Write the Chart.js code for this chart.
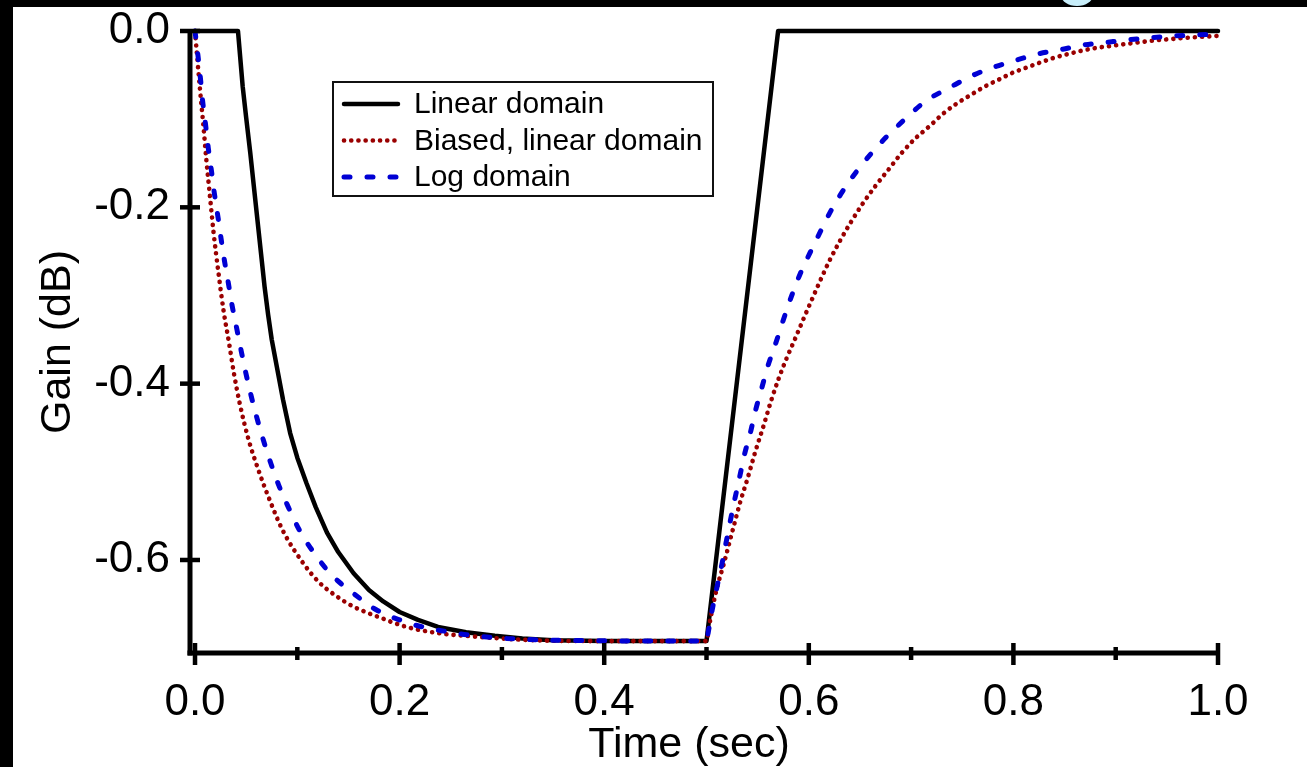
<!DOCTYPE html>
<html><head><meta charset="utf-8">
<script src="https://cdn.jsdelivr.net/npm/chart.js@4"></script>
<style>
html,body{margin:0;padding:0;background:#fff;}
#wrap{position:relative;width:1307px;height:767px;overflow:hidden;background:#fff;}
#c{position:absolute;left:0;top:0;display:block;}
.strip{position:absolute;background:#000;}
</style></head><body>
<div id="wrap">
<canvas id="c" width="1307" height="767"></canvas>
<div class="strip" style="left:0;top:0;width:13px;height:767px"></div>
<div class="strip" style="left:0;top:0;width:1307px;height:7px"></div>
<div style="position:absolute;left:1061px;top:-16px;width:32px;height:22px;border-radius:50%;background:#c8eefa;"></div>
</div>
<script>
// ---- data ----
const linearTime = [0, 0.042, 0.0466, 0.050, 0.054, 0.0575, 0.061, 0.0645, 0.068, 0.0715, 0.075, 0.080, 0.086, 0.093, 0.100, 0.109, 0.118, 0.129, 0.140, 0.155, 0.170, 0.184, 0.200, 0.218, 0.2375, 0.265, 0.293, 0.320, 0.350, 0.400, 0.500, 0.570, 1.000];
const linearGain = [0, 0, -0.063, -0.098, -0.138, -0.176, -0.214, -0.252, -0.290, -0.322, -0.350, -0.381, -0.418, -0.456, -0.484, -0.513, -0.540, -0.569, -0.591, -0.615, -0.634, -0.647, -0.659, -0.668, -0.676, -0.682, -0.686, -0.689, -0.691, -0.692, -0.692, 0, 0];

const biasedTime = [0, 0.002, 0.005, 0.008, 0.011, 0.015, 0.018, 0.023, 0.028, 0.033, 0.038, 0.044, 0.052, 0.062, 0.073, 0.086, 0.106, 0.121, 0.137, 0.155, 0.178, 0.207, 0.238, 0.275, 0.331, 0.400, 0.500,
  0.503, 0.507, 0.512, 0.517, 0.522, 0.527, 0.533, 0.540, 0.548, 0.556, 0.563, 0.570, 0.578, 0.587, 0.595, 0.604, 0.612, 0.620, 0.630, 0.640, 0.652, 0.665, 0.678, 0.691, 0.704, 0.719, 0.731, 0.745, 0.759, 0.772, 0.786, 0.800, 0.814, 0.828, 0.841, 0.854, 0.868, 0.882, 0.895, 0.908, 0.922, 0.936, 0.950, 0.963, 0.976, 1.000];
const biasedGain = [0, -0.028, -0.068, -0.105, -0.145, -0.192, -0.227, -0.275, -0.318, -0.352, -0.388, -0.424, -0.462, -0.498, -0.532, -0.567, -0.604, -0.625, -0.640, -0.653, -0.664, -0.676, -0.683, -0.687, -0.691, -0.692, -0.692,
  -0.672, -0.648, -0.624, -0.604, -0.582, -0.560, -0.534, -0.508, -0.476, -0.447, -0.420, -0.396, -0.372, -0.348, -0.326, -0.302, -0.281, -0.261, -0.239, -0.219, -0.197, -0.176, -0.157, -0.138, -0.122, -0.107, -0.094, -0.082, -0.072, -0.063, -0.055, -0.047, -0.041, -0.035, -0.030, -0.026, -0.022, -0.019, -0.017, -0.015, -0.013, -0.011, -0.0095, -0.0083, -0.0072, -0.0055];

const logTime = [0, 0.003, 0.0055, 0.0075, 0.0104, 0.013, 0.016, 0.0189, 0.0222, 0.0254, 0.0287, 0.0326, 0.0362, 0.0407, 0.045, 0.0495, 0.0547, 0.0603, 0.0668, 0.074, 0.0818, 0.0912, 0.102, 0.1157, 0.1336, 0.155, 0.178, 0.200, 0.2225, 0.245, 0.267, 0.305, 0.350, 0.500,
  0.502, 0.505, 0.510, 0.515, 0.520, 0.526, 0.532, 0.537, 0.543, 0.548, 0.554, 0.560, 0.568, 0.575, 0.583, 0.591, 0.601, 0.612, 0.623, 0.637, 0.653, 0.671, 0.693, 0.715, 0.738, 0.759, 0.781, 0.803, 0.824, 0.847, 0.868, 0.890, 0.912, 0.934, 0.957, 0.978, 1.000];
const logGain = [0, -0.029, -0.056, -0.080, -0.107, -0.133, -0.158, -0.184, -0.209, -0.235, -0.260, -0.286, -0.311, -0.337, -0.362, -0.387, -0.413, -0.438, -0.464, -0.490, -0.515, -0.540, -0.566, -0.591, -0.617, -0.638, -0.657, -0.668, -0.676, -0.681, -0.685, -0.689, -0.691, -0.692,
  -0.680, -0.660, -0.632, -0.605, -0.575, -0.540, -0.508, -0.481, -0.455, -0.430, -0.405, -0.380, -0.353, -0.328, -0.301, -0.277, -0.252, -0.226, -0.201, -0.175, -0.150, -0.126, -0.101, -0.079, -0.064, -0.051, -0.041, -0.033, -0.026, -0.021, -0.016, -0.013, -0.010, -0.0076, -0.0057, -0.0045, -0.0037];

const seriesLabels = ['Linear domain', 'Biased, linear domain', 'Log domain'];
const xMajorTicks = [0, 0.2, 0.4, 0.6, 0.8, 1.0];
const xMinorTicks = [0.1, 0.3, 0.5, 0.7, 0.9];
const yMajorTicks = [0, -0.2, -0.4, -0.6];
const xTitle = 'Time (sec)';
const yTitle = 'Gain (dB)';

// ---- chart ----
const FONT = "'Liberation Sans', Arial, Helvetica, sans-serif";
Chart.defaults.font.family = FONT;
Chart.defaults.color = '#000';

const toPts = (ts, gs) => ts.map((t, i) => ({x: t, y: gs[i]}));

const axesPlugin = {
  id: 'axesDraw',
  afterDraw(chart) {
    const {ctx, chartArea: a, scales: {x, y}} = chart;
    ctx.save();
    ctx.strokeStyle = '#000';
    ctx.lineCap = 'butt';
    const seg = (x1, y1, x2, y2) => { ctx.beginPath(); ctx.moveTo(x1, y1); ctx.lineTo(x2, y2); ctx.stroke(); };
    ctx.lineWidth = 5;
    seg(a.left, a.top - 2, a.left, a.bottom + 2.5);
    seg(a.left - 2.5, a.bottom, a.right + 2, a.bottom);
    ctx.lineWidth = 4.5;
    yMajorTicks.forEach(v => { const p = y.getPixelForValue(v); seg(a.left - 10, p, a.left + 10, p); });
    xMajorTicks.forEach(v => { const p = x.getPixelForValue(v); seg(p, a.bottom - 10, p, a.bottom + 12); });
    xMinorTicks.forEach(v => { const p = x.getPixelForValue(v); seg(p, a.bottom - 6, p, a.bottom + 7); });

    // x axis title
    ctx.fillStyle = '#000';
    ctx.font = '43px ' + FONT;
    ctx.textAlign = 'center';
    ctx.textBaseline = 'middle';
    ctx.fillText(xTitle, (a.left + a.right) / 2 - 15, a.bottom + 92);

    // legend box
    const bx = a.left + 143, by = a.top + 51, bw = 380, bh = 114;
    ctx.lineWidth = 2;
    ctx.strokeStyle = '#111';
    ctx.strokeRect(bx, by, bw, bh);
    ctx.font = '30px ' + FONT;
    ctx.textBaseline = 'middle';
    ctx.textAlign = 'left';
    chart.data.datasets.forEach((ds, i) => {
      const ry = by + 22 + i * 36.5;
      ctx.save();
      ctx.strokeStyle = ds.borderColor;
      ctx.lineWidth = ds.borderWidth;
      ctx.lineCap = 'round';
      ctx.setLineDash(ds.borderDash || []);
      seg(bx + 11, ry, bx + 65, ry);
      ctx.restore();
      ctx.fillStyle = '#000';
      ctx.fillText(ds.label, bx + 81, ry + 1);
    });
    ctx.restore();
  }
};

new Chart(document.getElementById('c'), {
  type: 'line',
  data: {
    datasets: [
      {label: seriesLabels[0], data: toPts(linearTime, linearGain), borderColor: '#000000', borderWidth: 4.5,
       borderCapStyle: 'round', borderJoinStyle: 'round', tension: 0, order: 3, clip: false},
      {label: seriesLabels[1], data: toPts(biasedTime, biasedGain), borderColor: '#9a0000', borderWidth: 4.6,
       borderDash: [0.1, 7.1], borderCapStyle: 'round', cubicInterpolationMode: 'monotone', order: 2, clip: false},
      {label: seriesLabels[2], data: toPts(logTime, logGain), borderColor: '#0000d4', borderWidth: 5,
       borderDash: [6, 17], borderCapStyle: 'round', cubicInterpolationMode: 'monotone', order: 1, clip: false}
    ]
  },
  options: {
    responsive: false,
    animation: false,
    devicePixelRatio: 1,
    layout: {padding: {left: 0, top: 31, right: 89, bottom: 0}},
    elements: {point: {radius: 0, hoverRadius: 0}},
    plugins: {legend: {display: false}, tooltip: {enabled: false}},
    scales: {
      x: {
        type: 'linear', min: -0.0049, max: 1.0,
        grid: {display: false, drawTicks: false},
        border: {display: false},
        ticks: {padding: 28, font: {size: 44, lineHeight: 1}, color: '#000', autoSkip: false, maxRotation: 0,
                callback: v => Number(v).toFixed(1)},
        afterBuildTicks: s => { s.ticks = xMajorTicks.map(v => ({value: v})); },
        afterFit: s => { s.height = 114; s.paddingLeft = 0; s.paddingRight = 0; },
        title: {display: false, text: xTitle}
      },
      y: {
        type: 'linear', min: -0.7055, max: 0,
        grid: {display: false, drawTicks: false},
        border: {display: false},
        ticks: {padding: 20, font: {size: 44, lineHeight: 1}, color: '#000', autoSkip: false,
                callback: v => Number(v).toFixed(1)},
        afterBuildTicks: s => { s.ticks = yMajorTicks.map(v => ({value: v})); },
        afterFit: s => { s.width = 190; s.paddingTop = 0; s.paddingBottom = 0; },
        title: {display: true, text: yTitle, font: {size: 43, lineHeight: 1}, color: '#000', padding: {top: 37, bottom: 0}}
      }
    }
  },
  plugins: [axesPlugin]
});
</script>
</body></html>
